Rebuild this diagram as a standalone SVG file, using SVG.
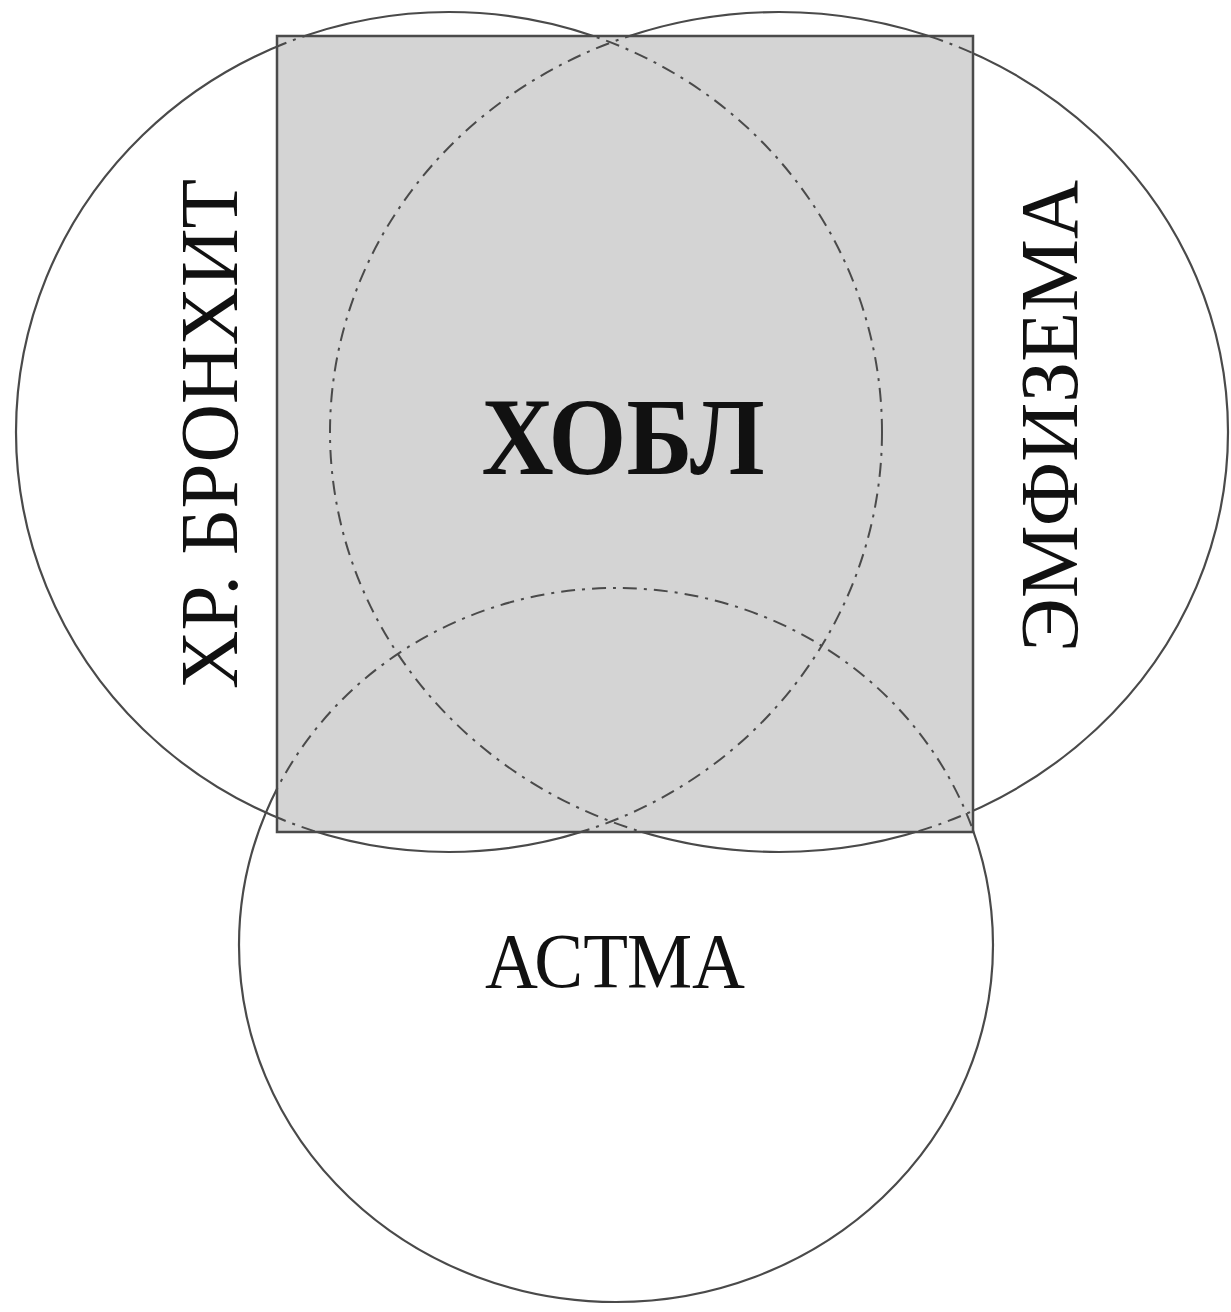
<svg xmlns="http://www.w3.org/2000/svg" width="1231" height="1312" viewBox="0 0 1231 1312">
  <style>
    .solid { fill: none; stroke: #4a4a4a; stroke-width: 2.2; }
    .dash { fill: none; stroke: #4a4a4a; stroke-width: 2; stroke-dasharray: 14 7 3 7; }
    .lbl { font-family: "Liberation Serif", "Times New Roman", serif; fill: #111; text-anchor: middle; }
  </style>
  <defs>
    <clipPath id="outside">
      <path clip-rule="evenodd" d="M0 0H1231V1312H0Z M277 36H973V832H277Z"/>
    </clipPath>
    <clipPath id="inside">
      <rect x="277" y="36" width="696" height="796"/>
    </clipPath>
  </defs>
  <rect width="1231" height="1312" fill="#ffffff"/>

  <g id="copd-square">
    <rect x="277" y="36" width="696" height="796" fill="#d4d4d4"/>
  </g>

  <g id="connectors">
    <g clip-path="url(#outside)">
      <ellipse class="solid" cx="449" cy="432" rx="433" ry="420"/>
      <ellipse class="solid" cx="779" cy="432" rx="449" ry="420"/>
      <ellipse class="solid" cx="616" cy="945" rx="377" ry="357"/>
    </g>
    <g clip-path="url(#inside)">
      <ellipse class="dash" cx="449" cy="432" rx="433" ry="420"/>
      <ellipse class="dash" cx="779" cy="432" rx="449" ry="420"/>
      <ellipse class="dash" cx="616" cy="945" rx="377" ry="357"/>
    </g>
  </g>

  <g id="square-border">
    <rect x="277" y="36" width="696" height="796" fill="none" stroke="#4a4a4a" stroke-width="2.5"/>
  </g>

  <g id="node-copd">
    <text class="lbl" x="623" y="474" font-size="110" font-weight="bold" textLength="283" lengthAdjust="spacingAndGlyphs">ХОБЛ</text>
  </g>
  <g id="node-bronchitis">
    <text class="lbl" transform="translate(237,434) rotate(-90)" font-size="82" textLength="510" lengthAdjust="spacingAndGlyphs">ХР. БРОНХИТ</text>
  </g>
  <g id="node-emphysema">
    <text class="lbl" transform="translate(1077,416) rotate(-90)" font-size="82" textLength="472" lengthAdjust="spacingAndGlyphs">ЭМФИЗЕМА</text>
  </g>
  <g id="node-asthma">
    <text class="lbl" x="615" y="987" font-size="78" textLength="260" lengthAdjust="spacingAndGlyphs">АСТМА</text>
  </g>
</svg>
